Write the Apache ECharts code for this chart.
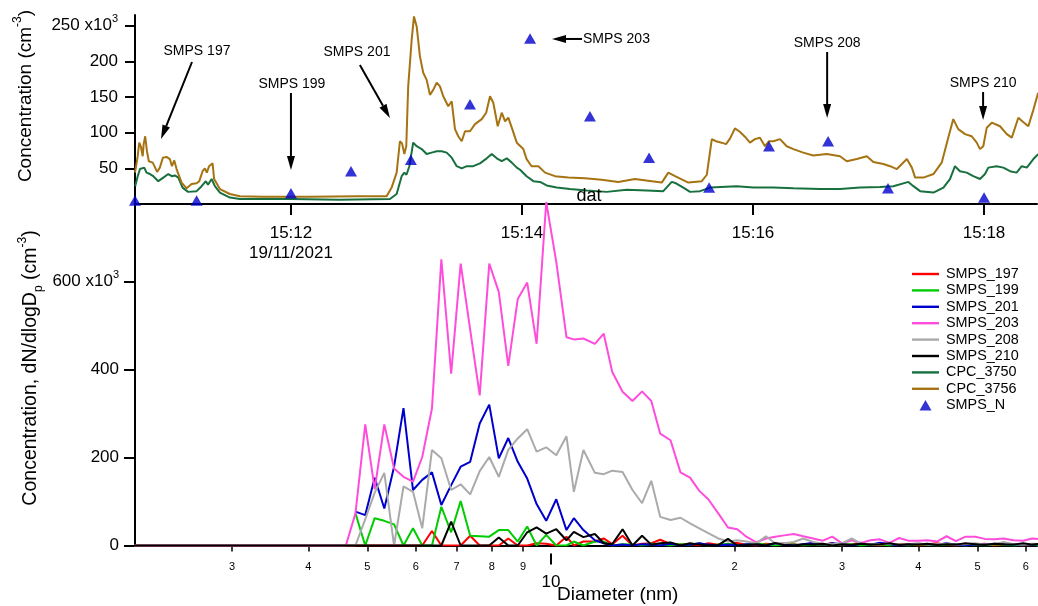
<!DOCTYPE html>
<html><head><meta charset="utf-8">
<script src="https://cdn.jsdelivr.net/npm/echarts@6/dist/echarts.min.js"></script>
<style>html,body{margin:0;padding:0;background:#fff}#c{width:1038px;height:606px}</style>
</head><body><div id="c"></div>
<script>
// ---------- TOP PANEL DATA (time in seconds after 15:00:00 on 19/11/2021) ----------
const topTickValues = [720, 840, 960, 1080];
const topTickLabels = ['15:12\n19/11/2021', '15:14', '15:16', '15:18'];
const topYTicks = [50, 100, 150, 200, 250];
const topYTickLabels = ['50', '100', '150', '200', '250 x10{sup|3}'];

const cpc3756T = [639,640.4,641.2,642.1,643.0,643.5,644.3,645.2,646.2,648.2,650.5,651.9,653.5,655.4,657.1,658.2,659.4,660.6,663.2,665.8,668.4,671.0,672.4,674.1,675.3,676.3,677.5,679.3,680.1,683.1,688.3,693.5,705,730,755,769.7,772.3,774.9,776.6,777.7,778.9,779.9,780.9,782.7,783.9,785.3,787.0,788.7,790.5,792.2,793.9,795.7,797.4,799.1,801.7,803.5,805.2,806.9,808.7,810.4,813.0,815.6,819.1,821.4,823.4,825.1,827.4,829.5,831.2,832.9,834.7,837.3,840.7,842.4,845.0,848.5,852.0,857.1,864.1,872.7,881.4,890.0,898.7,907.4,912.6,916.0,919.5,926.4,933.4,936.0,938.6,940.8,943.7,946.0,948.1,950.6,953.3,955.9,958.4,961.0,963.6,966.2,968.3,970.6,974.0,977.5,981.0,986.1,991.3,998.3,1005.2,1008.7,1013.9,1019.1,1022.5,1027.7,1031.2,1034.7,1039.9,1042.5,1044.2,1048.5,1053.7,1058.0,1061.4,1064.0,1066.6,1070.1,1073.6,1076.2,1077.9,1079.6,1081.4,1084.0,1088.3,1091.8,1094.4,1097.8,1100.3,1103.0,1105.6,1108.1];
const cpc3756V = [44,67,86,80,67,84,95,74,60,58,45,51,65,66,63,53,61,49,30,22,28,29,32,46,50,44,53,57,35,21,14,11,10,10,11,11,23,44,88,85,70,81,165,230,263,249,207,184,174,153,160,170,165,151,137,144,105,95,88,102,102,112,119,128,151,142,109,128,116,121,107,86,77,63,53,53,44,39,37,36,34,31,35,32,30,44,39,30,32,41,91,88,86,84,92,106,101,94,86,91,93,81,88,88,91,81,77,72,68,70,67,60,63,67,59,56,53,49,63,51,37,37,42,58,93,119,105,98,95,86,77,81,107,114,109,98,93,121,115,109,132,156];

const cpc3750T = [639.1,640.4,641.6,642.6,643.8,645.0,646.8,648.5,651.1,653.7,656.3,658.1,659.7,661.5,663.7,666.6,671.0,673.6,675.8,676.9,678.8,680.5,683.1,688.3,693.5,720,745,771.4,774.9,777.5,778.9,780.0,781.5,783.5,785.3,787.9,790.5,793.1,795.7,798.3,800.9,803.5,806.1,808.7,811.3,814.7,818.2,821.7,824.3,826.9,829.5,832.1,834.7,837.3,839.0,842.4,845.9,849.4,852.8,858.0,864.9,873.6,884.0,894.4,904.8,913.4,917.8,920.0,923.8,927.3,932.5,937.7,951.5,960.2,970.6,981.0,994.8,1005.2,1015.6,1026.0,1032.9,1040.7,1043.3,1046.8,1053.7,1058.9,1062.3,1064.9,1067.5,1071.0,1074.4,1077.9,1080.5,1082.2,1086.5,1090.0,1093.5,1096.9,1099.6,1102.2,1105.6,1108.1];
const cpc3750V = [25,39,49,47,51,44,42,39,32,37,42,39,40,37,23,17,18,25,32,27,35,25,16,9,7,7,6,7,14,39,44,41,53,86,81,77,70,72,74,74,72,65,53,50,53,53,57,64,70,64,60,64,58,51,48,39,32,31,26,23,21,19,17,20,19,18,31,29,23,17,18,23,25,23,23,22,21,21,23,24,25,31,25,18,16,23,35,53,46,44,39,35,42,51,53,51,46,44,53,51,63,70];

const smpsNT = [639.0,671.0,720.0,751.2,782.3,813.0,844.2,875.3,906.0,937.2,968.3,999.0,1030.1,1080.0];
const smpsNV = [5,5,15,46,62,140,232,123,65,23,81,88,22,9];

// annotations (data coordinates of the top panel)
const annTexts = [
  {text: 'SMPS 197', at: [671.2, 214.5], align: 'center'},
  {text: 'SMPS 199', at: [720.5, 168.3], align: 'center'},
  {text: 'SMPS 201', at: [754.3, 213.1], align: 'center'},
  {text: 'SMPS 203', at: [871.7, 231.4], align: 'left'},
  {text: 'SMPS 208', at: [998.5, 225.7], align: 'center'},
  {text: 'SMPS 210', at: [1079.5, 169.7], align: 'center'},
  {text: 'dat', at: [874.8, 11.2], align: 'center', size: 18}
];
const annArrows = [
  {from: [668.6, 199.1], to: [652.5, 91.1]},
  {from: [720.0, 155.6], to: [720.0, 47.7]},
  {from: [755.8, 194.9], to: [771.4, 120.6]},
  {from: [871.2, 231.4], to: [855.6, 231.4]},
  {from: [998.5, 213.1], to: [998.5, 120.6]},
  {from: [1079.5, 157.0], to: [1079.5, 117.8]}
];

// ---------- BOTTOM PANEL DATA (diameter in nm, dN/dlogDp in 10^3 cm^-3) ----------
const diamTickValues = [3, 4, 5, 6, 7, 8, 9, 20, 30, 40, 50, 60];
const diamTickLabels = ['3', '4', '5', '6', '7', '8', '9', '2', '3', '4', '5', '6'];
const diamMajorTick = [10];
const botYTicks = [0, 200, 400, 600];
const botYTickLabels = ['0', '200', '400', '600 x10{sup|3}'];

const diam = [2.0,
  4.61,4.78,4.96,5.14,5.33,5.53,5.73,5.94,6.15,6.38,
  6.61,6.86,7.11,7.37,7.64,7.92,8.21,8.51,8.82,9.14,
  9.47,9.82,10.2,10.6,10.9,11.3,11.8,12.2,12.6,13.1,
  13.6,14.1,14.6,15.1,15.7,16.3,16.9,17.5,18.1,18.8,
  19.5,20.2,20.9,21.7,22.5,23.3,24.1,25.0,25.9,26.9,
  27.9,28.9,30.0,31.1,32.2,33.4,34.6,35.9,37.2,38.5,
  40.0,41.4,42.9,44.5,46.1,47.8,49.6,51.4,53.3,55.2,
  57.3,59.4,61.5,63.8];
const smps197 = [0,
  0,0,0,0,0,0,0,0,0,33,
  0,0,0,22,0,0,0,16,0,0,
  5,4,0,20,0,9,9,16,3,22,
  0,4,5,13,3,2,4,0,5,2,
  3,6,2,0,4,2,5,3,0,4,
  2,5,0,3,6,2,0,4,3,2,
  0,3,5,2,0,3,2,4,0,2,
  3,0,2,3];
const smps199 = [null,
  null,73,0,62,56,48,0,39,0,0,
  88,30,101,22,21,20,35,35,9,43,
  0,24,0,0,9,0,9,9,0,3,
  2,0,4,2,0,3,2,5,0,2,
  4,0,2,5,2,0,3,2,0,2,
  3,0,2,3,0,2,3,0,2,0,
  3,2,0,2,3,0,2,0,3,2,
  0,2,3,0];
const smps201 = [null,
  null,77,69,154,84,179,312,126,149,166,
  92,137,179,190,277,320,198,244,190,152,
  94,56,105,35,62,35,12,5,0,2,
  0,3,2,0,4,0,2,5,2,0,
  2,0,3,2,0,5,2,0,3,6,
  2,5,3,0,4,2,6,3,0,2,
  4,3,2,5,2,0,3,2,4,3,
  2,3,2,3];
const smps203 = [0,
  0,73,275,128,275,175,156,145,201,311,
  650,390,640,490,341,640,576,408,560,597,
  458,780,644,473,468,470,458,481,394,349,
  328,350,328,254,239,166,154,124,105,73,
  41,37,20,7,16,20,23,26,21,16,
  11,20,5,12,6,12,14,6,17,11,
  11,12,9,21,10,20,20,15,14,16,
  12,11,16,14];
const smps208 = [0,
  0,0,60,120,165,0,134,122,39,217,
  198,126,139,116,169,201,156,217,243,264,
  213,223,205,248,122,217,165,162,170,167,
  126,96,147,65,58,63,50,39,28,16,
  9,12,9,5,21,5,5,8,16,8,
  4,3,5,16,4,3,3,4,2,3,
  5,2,3,4,2,3,5,2,3,8,
  3,2,4,3];
const smps210 = [0,
  0,0,0,0,0,0,0,0,0,0,
  0,54,0,0,0,0,18,0,0,30,
  41,27,37,12,31,19,26,5,3,37,
  0,22,2,5,7,0,5,2,0,1,
  15,0,1,3,0,6,1,0,3,2,
  4,0,3,1,4,2,3,5,1,3,
  2,4,1,3,2,5,3,1,4,3,
  2,5,2,4];

// ---------- CHART ----------
const FONT = 'Liberation Sans, Arial, sans-serif';
const zip = (xs, ys) => xs.map((x, i) => ys[i] == null ? null : [x, ys[i]]).filter(p => p);

const sizeSeries = [
  ['SMPS_197', smps197, '#FF0000'],
  ['SMPS_199', smps199, '#00CC00'],
  ['SMPS_201', smps201, '#0000CC'],
  ['SMPS_203', smps203, '#FF4DDB'],
  ['SMPS_208', smps208, '#AAAAAA'],
  ['SMPS_210', smps210, '#000000']
].map(([name, vals, color]) => ({
  name, type: 'line', xAxisIndex: 1, yAxisIndex: 1,
  data: zip(diam, vals), symbol: 'none', showSymbol: false,
  lineStyle: {color, width: 2}, itemStyle: {color}, emphasis: {disabled: true}
}));

const supRich = {
  n: {fontSize: 17, lineHeight: 24, fontFamily: FONT, color: '#000'},
  sup: {fontSize: 11, lineHeight: 11, verticalAlign: 'top', fontFamily: FONT, color: '#000'}
};
const richLabel = (labels, ticks) => v => {
  const s = labels[ticks.indexOf(v)];
  return s.includes('{sup|') ? '{n|' + s.replace('{sup|', '}{sup|') : '{n|' + s + '}';
};

const lineIcon = 'path://M0,0H27V2.4H0Z';
// triangle 12 x 10.5 centred in a 27 x 12 box (corner move-points fix the box)
const triIcon = 'path://M0,0L0,0M27,12L27,12M7.5,11.25L13.5,0.75L19.5,11.25Z';
const legendNames = ['SMPS_197','SMPS_199','SMPS_201','SMPS_203','SMPS_208','SMPS_210','CPC_3750','CPC_3756'];

const option = {
  animation: false,
  backgroundColor: '#fff',
  grid: [
    {left: 135, top: 15, width: 902, height: 189},
    {left: 135, top: 202, width: 902, height: 343.5}
  ],
  xAxis: [
    {
      gridIndex: 0, type: 'value', position: 'bottom', min: 639, max: 1107.5,
      axisLine: {lineStyle: {color: '#000', width: 2}},
      axisTick: {customValues: topTickValues, length: 11, lineStyle: {color: '#000', width: 2}},
      axisLabel: {customValues: topTickValues, margin: 19, fontSize: 17, lineHeight: 20, fontFamily: FONT, color: '#000',
        formatter: v => topTickLabels[topTickValues.indexOf(v)]},
      splitLine: {show: false}
    },
    {
      gridIndex: 1, type: 'log', position: 'bottom', min: 2.08, max: 62.6, offset: 8,
      axisLine: {lineStyle: {color: '#000', width: 2}},
      axisTick: {customValues: diamTickValues, length: 6, lineStyle: {color: '#000', width: 1.5}},
      axisLabel: {customValues: diamTickValues, margin: 8, fontSize: 11, fontFamily: FONT, color: '#000',
        formatter: v => diamTickLabels[diamTickValues.indexOf(v)]},
      splitLine: {show: false}, minorTick: {show: false}
    },
    {
      gridIndex: 1, type: 'log', position: 'bottom', min: 2.08, max: 62.6, offset: 8,
      axisLine: {show: false},
      axisTick: {customValues: diamMajorTick, length: 11, lineStyle: {color: '#000', width: 2}},
      axisLabel: {customValues: diamMajorTick, margin: 20, fontSize: 17, fontFamily: FONT, color: '#000',
        formatter: v => String(v)},
      splitLine: {show: false}
    }
  ],
  yAxis: [
    {
      gridIndex: 0, type: 'value', position: 'left', min: 0, max: 265,
      axisLine: {show: true, lineStyle: {color: '#000', width: 2}},
      axisTick: {show: true, customValues: topYTicks, length: 10, lineStyle: {color: '#000', width: 2}},
      axisLabel: {customValues: topYTicks, margin: 17, rich: supRich, formatter: richLabel(topYTickLabels, topYTicks)},
      splitLine: {show: false}
    },
    {
      gridIndex: 1, type: 'value', position: 'left', min: 0, max: 780,
      axisLine: {show: true, lineStyle: {color: '#000', width: 2}},
      axisTick: {show: true, customValues: botYTicks, length: 11, lineStyle: {color: '#000', width: 2}},
      axisLabel: {customValues: botYTicks, margin: 16, rich: supRich, formatter: richLabel(botYTickLabels, botYTicks)},
      splitLine: {show: false}
    }
  ],
  legend: {
    orient: 'vertical', left: 907, top: 262,
    itemWidth: 27, itemHeight: 12, itemGap: 2.4,
    textStyle: {fontSize: 14.4, fontFamily: FONT, color: '#000', padding: [0, 0, 0, 2]},
    data: legendNames.map(n => ({name: n, icon: lineIcon})).concat([{name: 'SMPS_N', icon: triIcon}]),
    selectedMode: false
  },
  series: sizeSeries.concat([
    {name: 'CPC_3750', type: 'line', xAxisIndex: 0, yAxisIndex: 0, data: zip(cpc3750T, cpc3750V),
      symbol: 'none', showSymbol: false, lineStyle: {color: '#17703E', width: 2}, itemStyle: {color: '#17703E'}},
    {name: 'CPC_3756', type: 'line', xAxisIndex: 0, yAxisIndex: 0, data: zip(cpc3756T, cpc3756V),
      symbol: 'none', showSymbol: false, lineStyle: {color: '#A57312', width: 2}, itemStyle: {color: '#A57312'}},
    {name: 'SMPS_N', type: 'scatter', xAxisIndex: 0, yAxisIndex: 0, data: zip(smpsNT, smpsNV),
      symbol: 'triangle', symbolSize: [12, 10.5], clip: false, itemStyle: {color: '#0000CC'}, z: 5}
  ])
};

const chart = echarts.init(document.getElementById('c'));
chart.setOption(option);

// ---------- annotations & titles ----------
const toPx = p => chart.convertToPixel({xAxisIndex: 0, yAxisIndex: 0}, p);
const g = [];
annTexts.forEach(a => {
  const p = toPx(a.at);
  g.push({type: 'text', x: p[0], y: p[1], z: 20, style: {text: a.text, fontSize: a.size || 14, fontFamily: FONT, fill: '#000',
    align: a.align, verticalAlign: 'middle', textAlign: a.align, textVerticalAlign: 'middle'}});
});
annArrows.forEach(a => {
  const p1 = toPx(a.from), p2 = toPx(a.to);
  const dx = p2[0] - p1[0], dy = p2[1] - p1[1], L = Math.hypot(dx, dy);
  const ux = dx / L, uy = dy / L, nx = -uy, ny = ux, hl = 14, hw = 4;
  const bx = p2[0] - ux * hl, by = p2[1] - uy * hl;
  g.push({type: 'line', z: 20, shape: {x1: p1[0], y1: p1[1], x2: bx, y2: by}, style: {stroke: '#000', lineWidth: 2}});
  g.push({type: 'polygon', z: 20, shape: {points: [[p2[0], p2[1]], [bx + nx * hw, by + ny * hw], [bx - nx * hw, by - ny * hw]]}, style: {fill: '#000'}});
});
const titleRich = {
  sup: {fontSize: 12, lineHeight: 12, verticalAlign: 'top', fontFamily: FONT, fill: '#000'},
  sub: {fontSize: 12, lineHeight: 12, verticalAlign: 'bottom', fontFamily: FONT, fill: '#000'}
};
g.push({type: 'text', x: 26, y: 96, rotation: Math.PI / 2, z: 20,
  style: {text: 'Concentration (cm{sup|-3})', fontSize: 19, lineHeight: 28, fontFamily: FONT, fill: '#000',
    align: 'center', verticalAlign: 'middle', rich: titleRich}});
g.push({type: 'text', x: 31, y: 368, rotation: Math.PI / 2, z: 20,
  style: {text: 'Concentration, dN/dlogD{sub|p} (cm{sup|-3})', fontSize: 19.5, lineHeight: 28, fontFamily: FONT, fill: '#000',
    align: 'center', verticalAlign: 'middle', rich: titleRich}});
const dPx = chart.convertToPixel({xAxisIndex: 1}, 10);
g.push({type: 'text', x: dPx + 6, y: 595, z: 20,
  style: {text: 'Diameter (nm)', fontSize: 19, fontFamily: FONT, fill: '#000', align: 'left', verticalAlign: 'middle'}});
chart.setOption({graphic: g});
</script></body></html>
